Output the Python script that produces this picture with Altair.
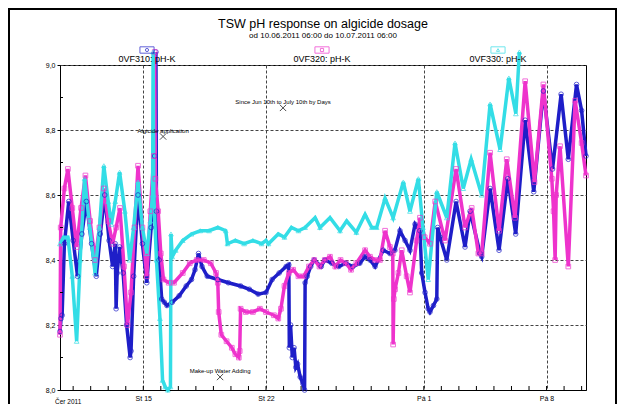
import altair as alt
import pandas as pd

START = pd.Timestamp("2011-06-10 06:00")

title_text = "TSW pH response on algicide dosage"
subtitle_text = "od 10.06.2011 06:00 do 10.07.2011 06:00"
month_label = "Čer 2011"

series_names = ["0VF310: pH-K", "0VF320: pH-K", "0VF330: pH-K"]
series_colors = ["#1e1ec8", "#ee33cc", "#33dde6"]
series_shapes = ["circle", "square", "triangle-up"]

# days since 10.06.2011 06:00 and pH readings
t310 = [0.00, 0.06, 0.12, 0.25, 0.50, 0.75, 1.00, 1.25, 1.50, 1.80, 2.07, 2.30, 2.55, 2.80,
        3.00, 3.15, 3.20, 3.26, 3.40, 3.60, 3.80, 4.00, 4.05, 4.20, 4.45, 4.70, 4.95, 5.20,
        5.40, 5.47, 5.50, 5.65, 5.80, 5.95, 6.10, 6.40, 6.80, 7.20, 7.50, 7.70, 7.90, 8.10,
        8.40, 9.00, 9.60, 10.30, 10.80, 11.30, 11.75, 12.10, 12.50, 12.90, 13.05, 13.08,
        13.15, 13.25, 13.35, 13.45, 13.55, 13.70, 13.85, 13.95, 13.98, 14.10, 14.30, 14.50,
        14.90, 15.10, 15.50, 15.90, 16.30, 16.70, 17.10, 17.40, 17.68, 17.97, 18.44, 18.82,
        19.10, 19.39, 19.68, 19.96, 20.25, 20.53, 20.63, 20.82, 21.00, 21.10, 21.30, 21.49,
        21.54, 21.68, 22.06, 22.59, 23.10, 23.39, 23.96, 24.05, 24.53, 25.04, 25.54, 25.99,
        26.53, 27.02, 27.57, 28.09, 28.58, 28.99, 29.46, 29.75, 30.00]
v310 = [8.18, 8.22, 8.23, 8.45, 8.58, 8.46, 8.35, 8.48, 8.58, 8.45, 8.35, 8.48, 8.60, 8.46,
        8.38, 8.45, 8.25, 8.36, 8.44, 8.36, 8.20, 8.10, 8.12, 8.35, 8.60, 8.45, 8.33, 8.50,
        8.72, 9.04, 8.55, 8.40, 8.28, 8.27, 8.26, 8.27, 8.29, 8.32, 8.34, 8.37, 8.42, 8.38,
        8.35, 8.34, 8.33, 8.32, 8.31, 8.295, 8.30, 8.34, 8.36, 8.38, 8.385, 8.13,
        8.20, 8.10, 8.13, 8.07, 8.08, 8.04, 8.02, 8.00, 8.33, 8.35, 8.38, 8.40,
        8.38, 8.40, 8.39, 8.38, 8.39, 8.38, 8.39, 8.41, 8.40, 8.38, 8.43, 8.42,
        8.43, 8.49, 8.46, 8.43, 8.51, 8.49, 8.36, 8.30, 8.25, 8.24, 8.26, 8.28,
        8.50, 8.47, 8.40, 8.58, 8.44, 8.55, 8.42, 8.41, 8.62, 8.43, 8.65, 8.48,
        8.83, 8.61, 8.92, 8.68, 8.91, 8.71, 8.94, 8.86, 8.72]

t320 = [0.00, 0.04, 0.25, 0.45, 0.70, 0.95, 1.20, 1.45, 1.72, 2.00, 2.25, 2.50, 2.75, 3.00,
        3.20, 3.42, 3.65, 3.85, 4.05, 4.25, 4.45, 4.70, 4.95, 5.15, 5.35, 5.40, 5.44, 5.60,
        5.75, 5.90, 6.20, 6.50, 7.00, 7.40, 7.80, 8.20, 8.60, 8.90, 9.00, 9.05, 9.20, 9.50,
        9.80, 10.00, 10.20, 10.25, 10.30, 10.60, 11.00, 11.40, 11.75, 12.20, 12.45, 12.60,
        12.80, 13.05, 13.30, 13.60, 13.90, 14.20, 14.50, 14.80, 15.10, 15.40, 15.70, 16.00,
        16.30, 16.60, 16.90, 17.40, 17.68, 17.97, 18.25, 18.54, 18.82, 18.98, 19.00, 19.04,
        19.11, 19.30, 19.49, 19.77, 19.96, 20.34, 20.53, 20.80, 21.10, 21.40, 21.96, 22.59,
        23.10, 23.48, 23.86, 24.05, 24.53, 25.04, 25.48, 25.95, 26.53, 27.06, 27.57, 28.05,
        28.15, 28.24, 28.30, 28.52, 28.99, 29.38, 29.75, 30.00]
v320 = [8.17, 8.50, 8.62, 8.68, 8.56, 8.44, 8.56, 8.66, 8.52, 8.40, 8.50, 8.62, 8.52, 8.45,
        8.50, 8.56, 8.38, 8.20, 8.30, 8.50, 8.69, 8.50, 8.35, 8.55, 8.72, 9.04, 8.65, 8.55,
        8.42, 8.34, 8.33, 8.33, 8.36, 8.39, 8.40, 8.40, 8.39, 8.36, 8.33, 8.24, 8.17, 8.15,
        8.13, 8.11, 8.10, 8.12, 8.25, 8.24, 8.24, 8.25, 8.24, 8.23, 8.22, 8.25,
        8.32, 8.36, 8.37, 8.35, 8.35, 8.38, 8.40, 8.38, 8.40, 8.41, 8.38, 8.40,
        8.39, 8.37, 8.39, 8.43, 8.41, 8.40, 8.40, 8.49, 8.44, 8.42, 8.14, 8.28,
        8.31, 8.36, 8.43, 8.35, 8.30, 8.46, 8.53, 8.47, 8.45, 8.58, 8.46, 8.68,
        8.50, 8.56, 8.42, 8.42, 8.73, 8.49, 8.71, 8.53, 8.95, 8.64, 8.94, 8.65,
        8.55, 8.40, 8.60, 8.75, 8.38, 8.89, 8.76, 8.66]

t330 = [0.00, 0.20, 0.45, 0.70, 0.95, 1.15, 1.40, 1.70, 2.00, 2.25, 2.50, 2.75, 2.93, 3.15,
        3.40, 3.70, 3.97, 4.20, 4.45, 4.70, 4.95, 5.15, 5.28, 5.31, 5.35, 5.50, 5.70, 5.85,
        6.00, 6.15, 6.30, 6.33, 6.40, 6.60, 7.00, 7.50, 8.00, 8.50, 9.00, 9.45, 9.55, 10.00,
        10.50, 11.00, 11.50, 11.75, 11.89, 12.45, 12.80, 13.20, 13.60, 13.98, 14.55, 14.83,
        15.40, 15.97, 16.35, 16.90, 17.40, 17.78, 18.06, 18.54, 19.00, 19.58, 19.96, 20.44,
        20.70, 21.00, 21.49, 22.06, 22.53, 23.00, 23.45, 24.05, 24.53, 25.10, 25.60, 26.00,
        26.20]
v330 = [8.45, 8.47, 8.47, 8.35, 8.15, 8.40, 8.65, 8.50, 8.36, 8.50, 8.69, 8.58, 8.51, 8.58,
        8.67, 8.55, 8.40, 8.50, 8.64, 8.50, 8.42, 8.52, 8.60, 9.04, 8.60, 8.40, 8.22, 8.03,
        8.01, 8.00, 8.01, 8.48, 8.41, 8.43, 8.46, 8.48, 8.49, 8.49, 8.50, 8.49, 8.45, 8.46,
        8.45, 8.46, 8.45, 8.46, 8.45, 8.48, 8.47, 8.50, 8.49, 8.50, 8.53, 8.50,
        8.53, 8.49, 8.52, 8.485, 8.54, 8.50, 8.50, 8.59, 8.53, 8.64, 8.55, 8.65,
        8.50, 8.34, 8.61, 8.53, 8.76, 8.62, 8.71, 8.60, 8.88, 8.74, 8.96, 8.85,
        9.04]

ann_text = ["Algicide application", "Since Jun 10th to July 10th by Days", "Make-up Water Adding"]
ann_t = [5.88, 12.72, 9.13]
ann_v = [8.78, 8.868, 8.04]

x_tick_days = ["2011-06-15", "2011-06-22", "2011-07-01", "2011-07-08"]
y_tick_values = [8.0, 8.2, 8.4, 8.6, 8.8, 9.0]
y_minor_values = [8.1, 8.3, 8.5, 8.7, 8.9]


def to_frame(name, t, v):
    return pd.DataFrame({"series": name,
                         "time": START + pd.to_timedelta(t, unit="D"),
                         "pH": v})


data = pd.concat([to_frame(series_names[0], t310, v310),
                  to_frame(series_names[1], t320, v320),
                  to_frame(series_names[2], t330, v330)], ignore_index=True)

ann = pd.DataFrame({"label": ann_text,
                    "time": START + pd.to_timedelta(ann_t, unit="D"),
                    "pH": ann_v})

day_ticks = pd.DataFrame({"time": pd.date_range("2011-06-11", "2011-07-10", freq="D")})
y_minor = pd.DataFrame({"pH": y_minor_values})

FONT = "Liberation Sans"
W, H = 526, 325

x_scale = alt.Scale(domain=[alt.DateTime(year=2011, month=6, date=10, hours=6),
                            alt.DateTime(year=2011, month=7, date=10, hours=6)])
y_scale = alt.Scale(domain=[8.0, 9.0], nice=False, zero=False)

x_axis = alt.Axis(
    values=[alt.DateTime(year=int(d[:4]), month=int(d[5:7]), date=int(d[8:])) for d in x_tick_days],
    labelExpr="['Ne','Po','Út','St','Čt','Pá','So'][day(datum.value)] + ' ' + date(datum.value)",
    title=None, grid=True, gridDash=[3, 2], gridColor="#444444", gridWidth=1,
    tickSize=0, labelPadding=4, labelFontSize=7, labelFont=FONT, labelColor="black",
    domainColor="black", labelFlush=False)
y_axis = alt.Axis(
    values=y_tick_values,
    labelExpr="replace(format(datum.value, '.1f'), '.', ',')",
    title=None, grid=True, gridDash=[3, 2], gridColor="#444444", gridWidth=1,
    tickSize=3, tickColor="black", labelPadding=2, labelFontSize=7, labelFont=FONT,
    labelColor="black", domainColor="black")

X = alt.X("time:T", scale=x_scale, axis=x_axis)
Y = alt.Y("pH:Q", scale=y_scale, axis=y_axis)
color = alt.Color("series:N", scale=alt.Scale(domain=series_names, range=series_colors), legend=None)
shape = alt.Shape("series:N", scale=alt.Scale(domain=series_names, range=series_shapes), legend=None)

base = alt.Chart(data)
lines = base.mark_line(strokeWidth=3.5, clip=False).encode(x=X, y=Y, color=color)
points = base.mark_point(filled=False, size=22, strokeWidth=1, clip=False).encode(
    x=X, y=Y, color=color, shape=shape)

x_minor = alt.Chart(day_ticks).mark_rule(color="black", strokeWidth=1).encode(
    x=X, y=alt.value(H - 4), y2=alt.value(H))
y_minor_ticks = alt.Chart(y_minor).mark_rule(color="black", strokeWidth=1).encode(
    y=Y, x=alt.value(0), x2=alt.value(3))

ann_marks = alt.Chart(ann).mark_point(shape="M-1,-1L1,1M-1,1L1,-1", size=40, filled=False,
                                      color="black", strokeWidth=1).encode(x=X, y=Y)
ann_text_marks = alt.Chart(ann).mark_text(fontSize=6, font=FONT, color="black", dy=-6).encode(
    x=X, y=Y, text="label:N")

one = pd.DataFrame({"a": [0]})
deco = []
deco.append(alt.Chart(pd.DataFrame({"t": [title_text]})).mark_text(
    fontSize=12.5, font=FONT, color="black").encode(text="t:N", x=alt.value(W / 2), y=alt.value(-41)))
deco.append(alt.Chart(pd.DataFrame({"t": [subtitle_text]})).mark_text(
    fontSize=8, font=FONT, color="black").encode(text="t:N", x=alt.value(W / 2), y=alt.value(-29)))
deco.append(alt.Chart(pd.DataFrame({"t": [month_label]})).mark_text(
    fontSize=6.5, font=FONT, color="black", align="left").encode(text="t:N", x=alt.value(-5), y=alt.value(H + 12)))

legend_x = [87, 262, 438]
for name, col, shp, lx in zip(series_names, series_colors, series_shapes, legend_x):
    src = alt.Chart(pd.DataFrame({"t": [name]}))
    deco.append(src.mark_point(shape="M-1,-0.45H1V0.45H-1Z", size=200, filled=False,
                               color=col, strokeWidth=1).encode(x=alt.value(lx), y=alt.value(-15)))
    deco.append(src.mark_point(shape=shp, size=10, filled=False, color=col, strokeWidth=1).encode(
        x=alt.value(lx), y=alt.value(-15)))
    deco.append(src.mark_text(fontSize=9, font=FONT, color="black").encode(
        text="t:N", x=alt.value(lx), y=alt.value(-6)))

deco.append(alt.Chart(one).mark_rect(fillOpacity=0, stroke="black", strokeWidth=2).encode(
    x=alt.value(-51), x2=alt.value(556), y=alt.value(-56), y2=alt.value(360)))

chart = alt.layer(lines, points, x_minor, y_minor_ticks, ann_marks, ann_text_marks, *deco).properties(
    width=W, height=H,
    padding={"left": 52, "top": 57, "right": 31, "bottom": 14},
    autosize=alt.AutoSizeParams(type="none"),
    background="white",
).configure_view(stroke="black", strokeWidth=1)

chart.save("out.html", embed_options={"renderer": "svg", "actions": False})
